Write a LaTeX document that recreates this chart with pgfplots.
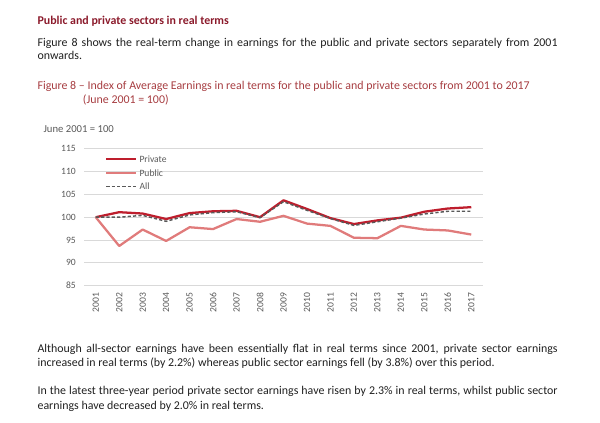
\documentclass[border=0pt]{standalone}
\usepackage{pgfplots}
\pgfplotsset{compat=1.18}
\usepackage{fontspec}
\setmainfont{Carlito}
\definecolor{headred}{HTML}{8B1A2B}
\definecolor{capred}{HTML}{A63C40}
\definecolor{bodytext}{HTML}{1F1F1F}
\definecolor{axisgray}{HTML}{595959}
\definecolor{gridgray}{HTML}{D9D9D9}
\definecolor{privred}{HTML}{BE1E2D}
\definecolor{pubred}{HTML}{E07B7B}
\definecolor{allgray}{HTML}{595959}
\newcommand{\bodyfont}{\fontsize{8.93}{10.5}\selectfont}
\newcommand{\ticksfont}{\fontsize{7.2}{8.5}\selectfont}
\begin{document}
\begin{tikzpicture}
\useasboundingbox (0,0) rectangle (450pt,-317.25pt);
% text above the chart
\node[anchor=base west, inner sep=0pt, font=\bodyfont\bfseries, text=headred] at (27.98pt,-18.75pt) {Public and private sectors in real terms};
\node[anchor=base west, inner sep=0pt, font=\bodyfont, text=bodytext] at (27.98pt,-34.88pt) {\hbox to 390pt{Figure 8 shows the real-term change in earnings for the public and private sectors separately from 2001}};
\node[anchor=base west, inner sep=0pt, font=\bodyfont, text=bodytext] at (27.98pt,-45pt) {onwards.};
\node[anchor=base west, inner sep=0pt, font=\bodyfont, text=capred] at (27.98pt,-67.5pt) {Figure 8 -- Index of Average Earnings in real terms for the public and private sectors from 2001 to 2017};
\node[anchor=base west, inner sep=0pt, font=\bodyfont, text=capred] at (62.03pt,-78pt) {(June 2001 = 100)};
\node[anchor=base west, inner sep=0pt, font=\fontsize{8}{9}\selectfont, text=axisgray] at (32.48pt,-99.75pt) {June 2001 = 100};
% text below the chart
\node[anchor=base west, inner sep=0pt, font=\bodyfont, text=bodytext] at (27.98pt,-264.38pt) {\hbox to 390pt{Although all-sector earnings have been essentially flat in real terms since 2001, private sector earnings}};
\node[anchor=base west, inner sep=0pt, font=\bodyfont, text=bodytext] at (27.98pt,-274.88pt) {increased in real terms (by 2.2\%) whereas public sector earnings fell (by 3.8\%) over this period.};
\node[anchor=base west, inner sep=0pt, font=\bodyfont, text=bodytext] at (27.98pt,-296.25pt) {\hbox to 390pt{In the latest three-year period private sector earnings have risen by 2.3\% in real terms, whilst public sector}};
\node[anchor=base west, inner sep=0pt, font=\bodyfont, text=bodytext] at (27.98pt,-307.5pt) {earnings have decreased by 2.0\% in real terms.};
\begin{axis}[
  at={(63pt,-214.28pt)}, anchor=south west,
  scale only axis, width=299.25pt, height=102.75pt,
  xmin=2000.5, xmax=2017.5, ymin=85, ymax=115,
  xtick={2001,2002,...,2017},
  ytick={85,90,...,115},
  axis line style={draw=none},
  major tick length=0pt,
  ymajorgrids,
  grid style={draw=gridgray, line width=0.75pt},
  tick label style={font=\ticksfont, text=axisgray},
  /pgf/number format/assume math mode=true,
  /pgf/number format/1000 sep={},
  xticklabel style={rotate=90, anchor=east, inner sep=0pt},
  xticklabel shift=5.25pt,
  yticklabel style={anchor=east, inner sep=0pt},
  yticklabel shift=6pt,
  legend style={at={(0.0526,0.951)}, anchor=north west, draw=none, fill=none,
    inner sep=0pt, font=\ticksfont, text=axisgray, row sep=5.3pt,
    nodes={inner sep=0pt, text height=5pt, text depth=0pt},
    /tikz/every odd column/.append style={column sep=1.7pt}},
  legend cell align=left,
  legend image code/.code={\draw[#1] (0pt,0pt) -- (22.3pt,0pt);},
]
\addplot[color=privred, line width=1.7pt, line join=round] table {
x y
2001 100.0
2002 101.1
2003 100.8
2004 99.6
2005 100.9
2006 101.3
2007 101.4
2008 100.0
2009 103.7
2010 101.8
2011 99.8
2012 98.5
2013 99.3
2014 99.9
2015 101.2
2016 101.9
2017 102.2
};
\addlegendentry{Private}
\addplot[color=pubred, line width=1.7pt, line join=round] table {
x y
2001 100.0
2002 93.7
2003 97.3
2004 94.8
2005 97.8
2006 97.4
2007 99.6
2008 99.0
2009 100.3
2010 98.6
2011 98.1
2012 95.5
2013 95.4
2014 98.1
2015 97.3
2016 97.1
2017 96.2
};
\addlegendentry{Public}
\addplot[color=allgray, line width=1.1pt, dash pattern=on 2.4pt off 1.6pt] table {
x y
2001 100.0
2002 100.0
2003 100.4
2004 99.1
2005 100.5
2006 101.0
2007 101.2
2008 99.9
2009 103.4
2010 101.5
2011 99.7
2012 98.2
2013 99.0
2014 99.8
2015 100.7
2016 101.3
2017 101.3
};
\addlegendentry{All}
\end{axis}
\end{tikzpicture}
\end{document}
